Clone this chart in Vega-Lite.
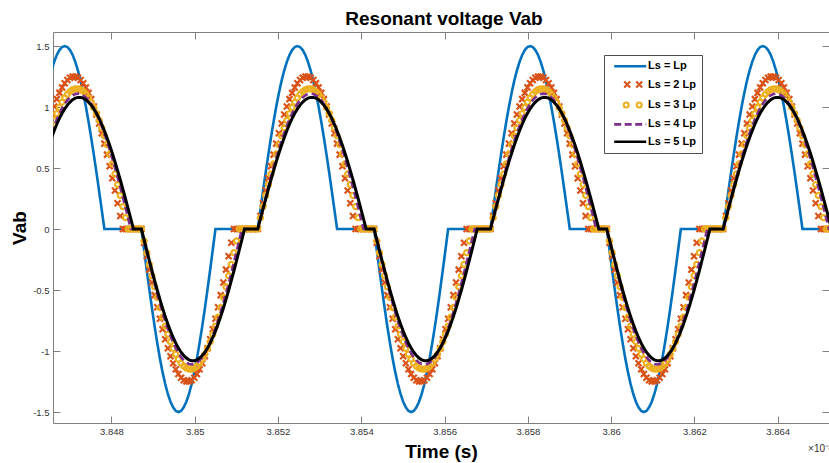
{
"$schema": "https://vega.github.io/schema/vega-lite/v6.json",
"width": 776, "height": 391,
"autosize": {"type": "none"},
"padding": {"left": 53, "top": 32, "right": 0, "bottom": 40},
"config": {"view": {"stroke": null}, "font": "Liberation Sans"},
"title": {"text": "Resonant voltage Vab", "font": "Liberation Sans", "fontSize": 19, "fontWeight": "bold", "color": "#000000", "anchor": "middle", "offset": 3, "dx": 3},
"data": {"values": [
{"t":3.846561,"a":1.299,"b":0.938,"c":0.829,"d":0.785,"e":0.749},
{"t":3.8466245,"a":1.37,"b":1.005,"c":0.891,"d":0.844,"e":0.806},
{"t":3.846688,"a":1.427,"b":1.065,"c":0.946,"d":0.898,"e":0.859},
{"t":3.8467515,"a":1.467,"b":1.116,"c":0.996,"d":0.946,"e":0.907},
{"t":3.846815,"a":1.492,"b":1.16,"c":1.039,"d":0.989,"e":0.949},
{"t":3.8468785,"a":1.5,"b":1.195,"c":1.075,"d":1.026,"e":0.985},
{"t":3.846942,"a":1.492,"b":1.222,"c":1.105,"d":1.056,"e":1.016},
{"t":3.8470055,"a":1.467,"b":1.24,"c":1.127,"d":1.079,"e":1.041},
{"t":3.847069,"a":1.427,"b":1.249,"c":1.142,"d":1.096,"e":1.06},
{"t":3.8471325,"a":1.37,"b":1.249,"c":1.149,"d":1.107,"e":1.073},
{"t":3.847196,"a":1.299,"b":1.24,"c":1.149,"d":1.11,"e":1.079},
{"t":3.8472595,"a":1.214,"b":1.222,"c":1.142,"d":1.107,"e":1.079},
{"t":3.847323,"a":1.115,"b":1.195,"c":1.127,"d":1.096,"e":1.073},
{"t":3.8473865,"a":1.004,"b":1.16,"c":1.105,"d":1.079,"e":1.06},
{"t":3.84745,"a":0.882,"b":1.116,"c":1.075,"d":1.056,"e":1.041},
{"t":3.8475135,"a":0.75,"b":1.065,"c":1.039,"d":1.026,"e":1.016},
{"t":3.847577,"a":0.61,"b":1.005,"c":0.996,"d":0.989,"e":0.985},
{"t":3.8476405,"a":0.464,"b":0.938,"c":0.946,"d":0.946,"e":0.949},
{"t":3.847704,"a":0.312,"b":0.865,"c":0.891,"d":0.898,"e":0.907},
{"t":3.8477675,"a":0.157,"b":0.785,"c":0.829,"d":0.844,"e":0.859},
{"t":3.847831,"a":0,"b":0.7,"c":0.763,"d":0.785,"e":0.806},
{"t":3.8478945,"a":0,"b":0.61,"c":0.691,"d":0.721,"e":0.749},
{"t":3.847958,"a":0,"b":0.515,"c":0.615,"d":0.652,"e":0.687},
{"t":3.8480215,"a":0,"b":0.416,"c":0.534,"d":0.58,"e":0.621},
{"t":3.848085,"a":0,"b":0.315,"c":0.451,"d":0.504,"e":0.552},
{"t":3.8481485,"a":0,"b":0.211,"c":0.364,"d":0.425,"e":0.479},
{"t":3.848212,"a":0,"b":0.106,"c":0.275,"d":0.343,"e":0.404},
{"t":3.8482755,"a":0,"b":0,"c":0.184,"d":0.259,"e":0.326},
{"t":3.848339,"a":0,"b":0,"c":0.093,"d":0.174,"e":0.246},
{"t":3.8484025,"a":0,"b":0,"c":0,"d":0.087,"e":0.165},
{"t":3.848466,"a":0,"b":0,"c":0,"d":0,"e":0.083},
{"t":3.8485295,"a":0,"b":0,"c":0,"d":0,"e":0},
{"t":3.848593,"a":0,"b":0,"c":0,"d":0,"e":0},
{"t":3.8486565,"a":0,"b":0,"c":0,"d":0,"e":0},
{"t":3.84872,"a":0,"b":0,"c":0,"d":0,"e":0},
{"t":3.8487835,"a":-0.168,"b":-0.112,"c":-0.098,"d":-0.092,"e":-0.087},
{"t":3.848847,"a":-0.334,"b":-0.223,"c":-0.194,"d":-0.183,"e":-0.173},
{"t":3.8489105,"a":-0.495,"b":-0.333,"c":-0.29,"d":-0.272,"e":-0.258},
{"t":3.848974,"a":-0.651,"b":-0.439,"c":-0.383,"d":-0.36,"e":-0.342},
{"t":3.8490375,"a":-0.798,"b":-0.542,"c":-0.474,"d":-0.446,"e":-0.423},
{"t":3.849101,"a":-0.935,"b":-0.641,"c":-0.561,"d":-0.528,"e":-0.502},
{"t":3.8491645,"a":-1.061,"b":-0.735,"c":-0.644,"d":-0.607,"e":-0.577},
{"t":3.849228,"a":-1.173,"b":-0.822,"c":-0.722,"d":-0.682,"e":-0.649},
{"t":3.8492915,"a":-1.27,"b":-0.904,"c":-0.796,"d":-0.752,"e":-0.716},
{"t":3.849355,"a":-1.352,"b":-0.977,"c":-0.863,"d":-0.817,"e":-0.779},
{"t":3.8494185,"a":-1.416,"b":-1.043,"c":-0.924,"d":-0.876,"e":-0.837},
{"t":3.849482,"a":-1.462,"b":-1.101,"c":-0.979,"d":-0.929,"e":-0.889},
{"t":3.8495455,"a":-1.491,"b":-1.15,"c":-1.027,"d":-0.976,"e":-0.935},
{"t":3.849609,"a":-1.5,"b":-1.189,"c":-1.067,"d":-1.017,"e":-0.976},
{"t":3.8496725,"a":-1.491,"b":-1.219,"c":-1.1,"d":-1.05,"e":-1.01},
{"t":3.849736,"a":-1.462,"b":-1.239,"c":-1.124,"d":-1.076,"e":-1.037},
{"t":3.8497995,"a":-1.416,"b":-1.249,"c":-1.141,"d":-1.095,"e":-1.058},
{"t":3.849863,"a":-1.352,"b":-1.249,"c":-1.149,"d":-1.106,"e":-1.072},
{"t":3.8499265,"a":-1.27,"b":-1.239,"c":-1.149,"d":-1.11,"e":-1.079},
{"t":3.84999,"a":-1.173,"b":-1.219,"c":-1.141,"d":-1.106,"e":-1.079},
{"t":3.8500535,"a":-1.061,"b":-1.189,"c":-1.124,"d":-1.095,"e":-1.072},
{"t":3.850117,"a":-0.935,"b":-1.15,"c":-1.1,"d":-1.076,"e":-1.058},
{"t":3.8501805,"a":-0.798,"b":-1.101,"c":-1.067,"d":-1.05,"e":-1.037},
{"t":3.850244,"a":-0.651,"b":-1.043,"c":-1.027,"d":-1.017,"e":-1.01},
{"t":3.8503075,"a":-0.495,"b":-0.977,"c":-0.979,"d":-0.976,"e":-0.976},
{"t":3.850371,"a":-0.334,"b":-0.904,"c":-0.924,"d":-0.929,"e":-0.935},
{"t":3.8504345,"a":-0.168,"b":-0.822,"c":-0.863,"d":-0.876,"e":-0.889},
{"t":3.850498,"a":0,"b":-0.735,"c":-0.796,"d":-0.817,"e":-0.837},
{"t":3.8505615,"a":0,"b":-0.641,"c":-0.722,"d":-0.752,"e":-0.779},
{"t":3.850625,"a":0,"b":-0.542,"c":-0.644,"d":-0.682,"e":-0.716},
{"t":3.8506885,"a":0,"b":-0.439,"c":-0.561,"d":-0.607,"e":-0.649},
{"t":3.850752,"a":0,"b":-0.333,"c":-0.474,"d":-0.528,"e":-0.577},
{"t":3.8508155,"a":0,"b":-0.223,"c":-0.383,"d":-0.446,"e":-0.502},
{"t":3.850879,"a":0,"b":-0.112,"c":-0.29,"d":-0.36,"e":-0.423},
{"t":3.8509425,"a":0,"b":0,"c":-0.194,"d":-0.272,"e":-0.342},
{"t":3.851006,"a":0,"b":0,"c":-0.098,"d":-0.183,"e":-0.258},
{"t":3.8510695,"a":0,"b":0,"c":0,"d":-0.092,"e":-0.173},
{"t":3.851133,"a":0,"b":0,"c":0,"d":0,"e":-0.087},
{"t":3.8511965,"a":0,"b":0,"c":0,"d":0,"e":0},
{"t":3.85126,"a":0,"b":0,"c":0,"d":0,"e":0},
{"t":3.8513235,"a":0,"b":0,"c":0,"d":0,"e":0},
{"t":3.851387,"a":0,"b":0,"c":0,"d":0,"e":0},
{"t":3.8514505,"a":0,"b":0,"c":0,"d":0,"e":0},
{"t":3.851514,"a":0,"b":0,"c":0,"d":0,"e":0},
{"t":3.8515775,"a":0.157,"b":0.106,"c":0.093,"d":0.087,"e":0.083},
{"t":3.851641,"a":0.312,"b":0.211,"c":0.184,"d":0.174,"e":0.165},
{"t":3.8517045,"a":0.464,"b":0.315,"c":0.275,"d":0.259,"e":0.246},
{"t":3.851768,"a":0.61,"b":0.416,"c":0.364,"d":0.343,"e":0.326},
{"t":3.8518315,"a":0.75,"b":0.515,"c":0.451,"d":0.425,"e":0.404},
{"t":3.851895,"a":0.882,"b":0.61,"c":0.534,"d":0.504,"e":0.479},
{"t":3.8519585,"a":1.004,"b":0.7,"c":0.615,"d":0.58,"e":0.552},
{"t":3.852022,"a":1.115,"b":0.785,"c":0.691,"d":0.652,"e":0.621},
{"t":3.8520855,"a":1.214,"b":0.865,"c":0.763,"d":0.721,"e":0.687},
{"t":3.852149,"a":1.299,"b":0.938,"c":0.829,"d":0.785,"e":0.749},
{"t":3.8522125,"a":1.37,"b":1.005,"c":0.891,"d":0.844,"e":0.806},
{"t":3.852276,"a":1.427,"b":1.065,"c":0.946,"d":0.898,"e":0.859},
{"t":3.8523395,"a":1.467,"b":1.116,"c":0.996,"d":0.946,"e":0.907},
{"t":3.852403,"a":1.492,"b":1.16,"c":1.039,"d":0.989,"e":0.949},
{"t":3.8524665,"a":1.5,"b":1.195,"c":1.075,"d":1.026,"e":0.985},
{"t":3.85253,"a":1.492,"b":1.222,"c":1.105,"d":1.056,"e":1.016},
{"t":3.8525935,"a":1.467,"b":1.24,"c":1.127,"d":1.079,"e":1.041},
{"t":3.852657,"a":1.427,"b":1.249,"c":1.142,"d":1.096,"e":1.06},
{"t":3.8527205,"a":1.37,"b":1.249,"c":1.149,"d":1.107,"e":1.073},
{"t":3.852784,"a":1.299,"b":1.24,"c":1.149,"d":1.11,"e":1.079},
{"t":3.8528475,"a":1.214,"b":1.222,"c":1.142,"d":1.107,"e":1.079},
{"t":3.852911,"a":1.115,"b":1.195,"c":1.127,"d":1.096,"e":1.073},
{"t":3.8529745,"a":1.004,"b":1.16,"c":1.105,"d":1.079,"e":1.06},
{"t":3.853038,"a":0.882,"b":1.116,"c":1.075,"d":1.056,"e":1.041},
{"t":3.8531015,"a":0.75,"b":1.065,"c":1.039,"d":1.026,"e":1.016},
{"t":3.853165,"a":0.61,"b":1.005,"c":0.996,"d":0.989,"e":0.985},
{"t":3.8532285,"a":0.464,"b":0.938,"c":0.946,"d":0.946,"e":0.949},
{"t":3.853292,"a":0.312,"b":0.865,"c":0.891,"d":0.898,"e":0.907},
{"t":3.8533555,"a":0.157,"b":0.785,"c":0.829,"d":0.844,"e":0.859},
{"t":3.853419,"a":0,"b":0.7,"c":0.763,"d":0.785,"e":0.806},
{"t":3.8534825,"a":0,"b":0.61,"c":0.691,"d":0.721,"e":0.749},
{"t":3.853546,"a":0,"b":0.515,"c":0.615,"d":0.652,"e":0.687},
{"t":3.8536095,"a":0,"b":0.416,"c":0.534,"d":0.58,"e":0.621},
{"t":3.853673,"a":0,"b":0.315,"c":0.451,"d":0.504,"e":0.552},
{"t":3.8537365,"a":0,"b":0.211,"c":0.364,"d":0.425,"e":0.479},
{"t":3.8538,"a":0,"b":0.106,"c":0.275,"d":0.343,"e":0.404},
{"t":3.8538635,"a":0,"b":0,"c":0.184,"d":0.259,"e":0.326},
{"t":3.853927,"a":0,"b":0,"c":0.093,"d":0.174,"e":0.246},
{"t":3.8539905,"a":0,"b":0,"c":0,"d":0.087,"e":0.165},
{"t":3.854054,"a":0,"b":0,"c":0,"d":0,"e":0.083},
{"t":3.8541175,"a":0,"b":0,"c":0,"d":0,"e":0},
{"t":3.854181,"a":0,"b":0,"c":0,"d":0,"e":0},
{"t":3.8542445,"a":0,"b":0,"c":0,"d":0,"e":0},
{"t":3.854308,"a":0,"b":0,"c":0,"d":0,"e":0},
{"t":3.8543715,"a":-0.168,"b":-0.112,"c":-0.098,"d":-0.092,"e":-0.087},
{"t":3.854435,"a":-0.334,"b":-0.223,"c":-0.194,"d":-0.183,"e":-0.173},
{"t":3.8544985,"a":-0.495,"b":-0.333,"c":-0.29,"d":-0.272,"e":-0.258},
{"t":3.854562,"a":-0.651,"b":-0.439,"c":-0.383,"d":-0.36,"e":-0.342},
{"t":3.8546255,"a":-0.798,"b":-0.542,"c":-0.474,"d":-0.446,"e":-0.423},
{"t":3.854689,"a":-0.935,"b":-0.641,"c":-0.561,"d":-0.528,"e":-0.502},
{"t":3.8547525,"a":-1.061,"b":-0.735,"c":-0.644,"d":-0.607,"e":-0.577},
{"t":3.854816,"a":-1.173,"b":-0.822,"c":-0.722,"d":-0.682,"e":-0.649},
{"t":3.8548795,"a":-1.27,"b":-0.904,"c":-0.796,"d":-0.752,"e":-0.716},
{"t":3.854943,"a":-1.352,"b":-0.977,"c":-0.863,"d":-0.817,"e":-0.779},
{"t":3.8550065,"a":-1.416,"b":-1.043,"c":-0.924,"d":-0.876,"e":-0.837},
{"t":3.85507,"a":-1.462,"b":-1.101,"c":-0.979,"d":-0.929,"e":-0.889},
{"t":3.8551335,"a":-1.491,"b":-1.15,"c":-1.027,"d":-0.976,"e":-0.935},
{"t":3.855197,"a":-1.5,"b":-1.189,"c":-1.067,"d":-1.017,"e":-0.976},
{"t":3.8552605,"a":-1.491,"b":-1.219,"c":-1.1,"d":-1.05,"e":-1.01},
{"t":3.855324,"a":-1.462,"b":-1.239,"c":-1.124,"d":-1.076,"e":-1.037},
{"t":3.8553875,"a":-1.416,"b":-1.249,"c":-1.141,"d":-1.095,"e":-1.058},
{"t":3.855451,"a":-1.352,"b":-1.249,"c":-1.149,"d":-1.106,"e":-1.072},
{"t":3.8555145,"a":-1.27,"b":-1.239,"c":-1.149,"d":-1.11,"e":-1.079},
{"t":3.855578,"a":-1.173,"b":-1.219,"c":-1.141,"d":-1.106,"e":-1.079},
{"t":3.8556415,"a":-1.061,"b":-1.189,"c":-1.124,"d":-1.095,"e":-1.072},
{"t":3.855705,"a":-0.935,"b":-1.15,"c":-1.1,"d":-1.076,"e":-1.058},
{"t":3.8557685,"a":-0.798,"b":-1.101,"c":-1.067,"d":-1.05,"e":-1.037},
{"t":3.855832,"a":-0.651,"b":-1.043,"c":-1.027,"d":-1.017,"e":-1.01},
{"t":3.8558955,"a":-0.495,"b":-0.977,"c":-0.979,"d":-0.976,"e":-0.976},
{"t":3.855959,"a":-0.334,"b":-0.904,"c":-0.924,"d":-0.929,"e":-0.935},
{"t":3.8560225,"a":-0.168,"b":-0.822,"c":-0.863,"d":-0.876,"e":-0.889},
{"t":3.856086,"a":0,"b":-0.735,"c":-0.796,"d":-0.817,"e":-0.837},
{"t":3.8561495,"a":0,"b":-0.641,"c":-0.722,"d":-0.752,"e":-0.779},
{"t":3.856213,"a":0,"b":-0.542,"c":-0.644,"d":-0.682,"e":-0.716},
{"t":3.8562765,"a":0,"b":-0.439,"c":-0.561,"d":-0.607,"e":-0.649},
{"t":3.85634,"a":0,"b":-0.333,"c":-0.474,"d":-0.528,"e":-0.577},
{"t":3.8564035,"a":0,"b":-0.223,"c":-0.383,"d":-0.446,"e":-0.502},
{"t":3.856467,"a":0,"b":-0.112,"c":-0.29,"d":-0.36,"e":-0.423},
{"t":3.8565305,"a":0,"b":0,"c":-0.194,"d":-0.272,"e":-0.342},
{"t":3.856594,"a":0,"b":0,"c":-0.098,"d":-0.183,"e":-0.258},
{"t":3.8566575,"a":0,"b":0,"c":0,"d":-0.092,"e":-0.173},
{"t":3.856721,"a":0,"b":0,"c":0,"d":0,"e":-0.087},
{"t":3.8567845,"a":0,"b":0,"c":0,"d":0,"e":0},
{"t":3.856848,"a":0,"b":0,"c":0,"d":0,"e":0},
{"t":3.8569115,"a":0,"b":0,"c":0,"d":0,"e":0},
{"t":3.856975,"a":0,"b":0,"c":0,"d":0,"e":0},
{"t":3.8570385,"a":0,"b":0,"c":0,"d":0,"e":0},
{"t":3.857102,"a":0,"b":0,"c":0,"d":0,"e":0},
{"t":3.8571655,"a":0.157,"b":0.106,"c":0.093,"d":0.087,"e":0.083},
{"t":3.857229,"a":0.312,"b":0.211,"c":0.184,"d":0.174,"e":0.165},
{"t":3.8572925,"a":0.464,"b":0.315,"c":0.275,"d":0.259,"e":0.246},
{"t":3.857356,"a":0.61,"b":0.416,"c":0.364,"d":0.343,"e":0.326},
{"t":3.8574195,"a":0.75,"b":0.515,"c":0.451,"d":0.425,"e":0.404},
{"t":3.857483,"a":0.882,"b":0.61,"c":0.534,"d":0.504,"e":0.479},
{"t":3.8575465,"a":1.004,"b":0.7,"c":0.615,"d":0.58,"e":0.552},
{"t":3.85761,"a":1.115,"b":0.785,"c":0.691,"d":0.652,"e":0.621},
{"t":3.8576735,"a":1.214,"b":0.865,"c":0.763,"d":0.721,"e":0.687},
{"t":3.857737,"a":1.299,"b":0.938,"c":0.829,"d":0.785,"e":0.749},
{"t":3.8578005,"a":1.37,"b":1.005,"c":0.891,"d":0.844,"e":0.806},
{"t":3.857864,"a":1.427,"b":1.065,"c":0.946,"d":0.898,"e":0.859},
{"t":3.8579275,"a":1.467,"b":1.116,"c":0.996,"d":0.946,"e":0.907},
{"t":3.857991,"a":1.492,"b":1.16,"c":1.039,"d":0.989,"e":0.949},
{"t":3.8580545,"a":1.5,"b":1.195,"c":1.075,"d":1.026,"e":0.985},
{"t":3.858118,"a":1.492,"b":1.222,"c":1.105,"d":1.056,"e":1.016},
{"t":3.8581815,"a":1.467,"b":1.24,"c":1.127,"d":1.079,"e":1.041},
{"t":3.858245,"a":1.427,"b":1.249,"c":1.142,"d":1.096,"e":1.06},
{"t":3.8583085,"a":1.37,"b":1.249,"c":1.149,"d":1.107,"e":1.073},
{"t":3.858372,"a":1.299,"b":1.24,"c":1.149,"d":1.11,"e":1.079},
{"t":3.8584355,"a":1.214,"b":1.222,"c":1.142,"d":1.107,"e":1.079},
{"t":3.858499,"a":1.115,"b":1.195,"c":1.127,"d":1.096,"e":1.073},
{"t":3.8585625,"a":1.004,"b":1.16,"c":1.105,"d":1.079,"e":1.06},
{"t":3.858626,"a":0.882,"b":1.116,"c":1.075,"d":1.056,"e":1.041},
{"t":3.8586895,"a":0.75,"b":1.065,"c":1.039,"d":1.026,"e":1.016},
{"t":3.858753,"a":0.61,"b":1.005,"c":0.996,"d":0.989,"e":0.985},
{"t":3.8588165,"a":0.464,"b":0.938,"c":0.946,"d":0.946,"e":0.949},
{"t":3.85888,"a":0.312,"b":0.865,"c":0.891,"d":0.898,"e":0.907},
{"t":3.8589435,"a":0.157,"b":0.785,"c":0.829,"d":0.844,"e":0.859},
{"t":3.859007,"a":0,"b":0.7,"c":0.763,"d":0.785,"e":0.806},
{"t":3.8590705,"a":0,"b":0.61,"c":0.691,"d":0.721,"e":0.749},
{"t":3.859134,"a":0,"b":0.515,"c":0.615,"d":0.652,"e":0.687},
{"t":3.8591975,"a":0,"b":0.416,"c":0.534,"d":0.58,"e":0.621},
{"t":3.859261,"a":0,"b":0.315,"c":0.451,"d":0.504,"e":0.552},
{"t":3.8593245,"a":0,"b":0.211,"c":0.364,"d":0.425,"e":0.479},
{"t":3.859388,"a":0,"b":0.106,"c":0.275,"d":0.343,"e":0.404},
{"t":3.8594515,"a":0,"b":0,"c":0.184,"d":0.259,"e":0.326},
{"t":3.859515,"a":0,"b":0,"c":0.093,"d":0.174,"e":0.246},
{"t":3.8595785,"a":0,"b":0,"c":0,"d":0.087,"e":0.165},
{"t":3.859642,"a":0,"b":0,"c":0,"d":0,"e":0.083},
{"t":3.8597055,"a":0,"b":0,"c":0,"d":0,"e":0},
{"t":3.859769,"a":0,"b":0,"c":0,"d":0,"e":0},
{"t":3.8598325,"a":0,"b":0,"c":0,"d":0,"e":0},
{"t":3.859896,"a":0,"b":0,"c":0,"d":0,"e":0},
{"t":3.8599595,"a":-0.168,"b":-0.112,"c":-0.098,"d":-0.092,"e":-0.087},
{"t":3.860023,"a":-0.334,"b":-0.223,"c":-0.194,"d":-0.183,"e":-0.173},
{"t":3.8600865,"a":-0.495,"b":-0.333,"c":-0.29,"d":-0.272,"e":-0.258},
{"t":3.86015,"a":-0.651,"b":-0.439,"c":-0.383,"d":-0.36,"e":-0.342},
{"t":3.8602135,"a":-0.798,"b":-0.542,"c":-0.474,"d":-0.446,"e":-0.423},
{"t":3.860277,"a":-0.935,"b":-0.641,"c":-0.561,"d":-0.528,"e":-0.502},
{"t":3.8603405,"a":-1.061,"b":-0.735,"c":-0.644,"d":-0.607,"e":-0.577},
{"t":3.860404,"a":-1.173,"b":-0.822,"c":-0.722,"d":-0.682,"e":-0.649},
{"t":3.8604675,"a":-1.27,"b":-0.904,"c":-0.796,"d":-0.752,"e":-0.716},
{"t":3.860531,"a":-1.352,"b":-0.977,"c":-0.863,"d":-0.817,"e":-0.779},
{"t":3.8605945,"a":-1.416,"b":-1.043,"c":-0.924,"d":-0.876,"e":-0.837},
{"t":3.860658,"a":-1.462,"b":-1.101,"c":-0.979,"d":-0.929,"e":-0.889},
{"t":3.8607215,"a":-1.491,"b":-1.15,"c":-1.027,"d":-0.976,"e":-0.935},
{"t":3.860785,"a":-1.5,"b":-1.189,"c":-1.067,"d":-1.017,"e":-0.976},
{"t":3.8608485,"a":-1.491,"b":-1.219,"c":-1.1,"d":-1.05,"e":-1.01},
{"t":3.860912,"a":-1.462,"b":-1.239,"c":-1.124,"d":-1.076,"e":-1.037},
{"t":3.8609755,"a":-1.416,"b":-1.249,"c":-1.141,"d":-1.095,"e":-1.058},
{"t":3.861039,"a":-1.352,"b":-1.249,"c":-1.149,"d":-1.106,"e":-1.072},
{"t":3.8611025,"a":-1.27,"b":-1.239,"c":-1.149,"d":-1.11,"e":-1.079},
{"t":3.861166,"a":-1.173,"b":-1.219,"c":-1.141,"d":-1.106,"e":-1.079},
{"t":3.8612295,"a":-1.061,"b":-1.189,"c":-1.124,"d":-1.095,"e":-1.072},
{"t":3.861293,"a":-0.935,"b":-1.15,"c":-1.1,"d":-1.076,"e":-1.058},
{"t":3.8613565,"a":-0.798,"b":-1.101,"c":-1.067,"d":-1.05,"e":-1.037},
{"t":3.86142,"a":-0.651,"b":-1.043,"c":-1.027,"d":-1.017,"e":-1.01},
{"t":3.8614835,"a":-0.495,"b":-0.977,"c":-0.979,"d":-0.976,"e":-0.976},
{"t":3.861547,"a":-0.334,"b":-0.904,"c":-0.924,"d":-0.929,"e":-0.935},
{"t":3.8616105,"a":-0.168,"b":-0.822,"c":-0.863,"d":-0.876,"e":-0.889},
{"t":3.861674,"a":0,"b":-0.735,"c":-0.796,"d":-0.817,"e":-0.837},
{"t":3.8617375,"a":0,"b":-0.641,"c":-0.722,"d":-0.752,"e":-0.779},
{"t":3.861801,"a":0,"b":-0.542,"c":-0.644,"d":-0.682,"e":-0.716},
{"t":3.8618645,"a":0,"b":-0.439,"c":-0.561,"d":-0.607,"e":-0.649},
{"t":3.861928,"a":0,"b":-0.333,"c":-0.474,"d":-0.528,"e":-0.577},
{"t":3.8619915,"a":0,"b":-0.223,"c":-0.383,"d":-0.446,"e":-0.502},
{"t":3.862055,"a":0,"b":-0.112,"c":-0.29,"d":-0.36,"e":-0.423},
{"t":3.8621185,"a":0,"b":0,"c":-0.194,"d":-0.272,"e":-0.342},
{"t":3.862182,"a":0,"b":0,"c":-0.098,"d":-0.183,"e":-0.258},
{"t":3.8622455,"a":0,"b":0,"c":0,"d":-0.092,"e":-0.173},
{"t":3.862309,"a":0,"b":0,"c":0,"d":0,"e":-0.087},
{"t":3.8623725,"a":0,"b":0,"c":0,"d":0,"e":0},
{"t":3.862436,"a":0,"b":0,"c":0,"d":0,"e":0},
{"t":3.8624995,"a":0,"b":0,"c":0,"d":0,"e":0},
{"t":3.862563,"a":0,"b":0,"c":0,"d":0,"e":0},
{"t":3.8626265,"a":0,"b":0,"c":0,"d":0,"e":0},
{"t":3.86269,"a":0,"b":0,"c":0,"d":0,"e":0},
{"t":3.8627535,"a":0.157,"b":0.106,"c":0.093,"d":0.087,"e":0.083},
{"t":3.862817,"a":0.312,"b":0.211,"c":0.184,"d":0.174,"e":0.165},
{"t":3.8628805,"a":0.464,"b":0.315,"c":0.275,"d":0.259,"e":0.246},
{"t":3.862944,"a":0.61,"b":0.416,"c":0.364,"d":0.343,"e":0.326},
{"t":3.8630075,"a":0.75,"b":0.515,"c":0.451,"d":0.425,"e":0.404},
{"t":3.863071,"a":0.882,"b":0.61,"c":0.534,"d":0.504,"e":0.479},
{"t":3.8631345,"a":1.004,"b":0.7,"c":0.615,"d":0.58,"e":0.552},
{"t":3.863198,"a":1.115,"b":0.785,"c":0.691,"d":0.652,"e":0.621},
{"t":3.8632615,"a":1.214,"b":0.865,"c":0.763,"d":0.721,"e":0.687},
{"t":3.863325,"a":1.299,"b":0.938,"c":0.829,"d":0.785,"e":0.749},
{"t":3.8633885,"a":1.37,"b":1.005,"c":0.891,"d":0.844,"e":0.806},
{"t":3.863452,"a":1.427,"b":1.065,"c":0.946,"d":0.898,"e":0.859},
{"t":3.8635155,"a":1.467,"b":1.116,"c":0.996,"d":0.946,"e":0.907},
{"t":3.863579,"a":1.492,"b":1.16,"c":1.039,"d":0.989,"e":0.949},
{"t":3.8636425,"a":1.5,"b":1.195,"c":1.075,"d":1.026,"e":0.985},
{"t":3.863706,"a":1.492,"b":1.222,"c":1.105,"d":1.056,"e":1.016},
{"t":3.8637695,"a":1.467,"b":1.24,"c":1.127,"d":1.079,"e":1.041},
{"t":3.863833,"a":1.427,"b":1.249,"c":1.142,"d":1.096,"e":1.06},
{"t":3.8638965,"a":1.37,"b":1.249,"c":1.149,"d":1.107,"e":1.073},
{"t":3.86396,"a":1.299,"b":1.24,"c":1.149,"d":1.11,"e":1.079},
{"t":3.8640235,"a":1.214,"b":1.222,"c":1.142,"d":1.107,"e":1.079},
{"t":3.864087,"a":1.115,"b":1.195,"c":1.127,"d":1.096,"e":1.073},
{"t":3.8641505,"a":1.004,"b":1.16,"c":1.105,"d":1.079,"e":1.06},
{"t":3.864214,"a":0.882,"b":1.116,"c":1.075,"d":1.056,"e":1.041},
{"t":3.8642775,"a":0.75,"b":1.065,"c":1.039,"d":1.026,"e":1.016},
{"t":3.864341,"a":0.61,"b":1.005,"c":0.996,"d":0.989,"e":0.985},
{"t":3.8644045,"a":0.464,"b":0.938,"c":0.946,"d":0.946,"e":0.949},
{"t":3.864468,"a":0.312,"b":0.865,"c":0.891,"d":0.898,"e":0.907},
{"t":3.8645315,"a":0.157,"b":0.785,"c":0.829,"d":0.844,"e":0.859},
{"t":3.864595,"a":0,"b":0.7,"c":0.763,"d":0.785,"e":0.806},
{"t":3.8646585,"a":0,"b":0.61,"c":0.691,"d":0.721,"e":0.749},
{"t":3.864722,"a":0,"b":0.515,"c":0.615,"d":0.652,"e":0.687},
{"t":3.8647855,"a":0,"b":0.416,"c":0.534,"d":0.58,"e":0.621},
{"t":3.864849,"a":0,"b":0.315,"c":0.451,"d":0.504,"e":0.552},
{"t":3.8649125,"a":0,"b":0.211,"c":0.364,"d":0.425,"e":0.479},
{"t":3.864976,"a":0,"b":0.106,"c":0.275,"d":0.343,"e":0.404},
{"t":3.8650395,"a":0,"b":0,"c":0.184,"d":0.259,"e":0.326},
{"t":3.865103,"a":0,"b":0,"c":0.093,"d":0.174,"e":0.246},
{"t":3.8651665,"a":0,"b":0,"c":0,"d":0.087,"e":0.165},
{"t":3.86523,"a":0,"b":0,"c":0,"d":0,"e":0.083},
{"t":3.8652935,"a":0,"b":0,"c":0,"d":0,"e":0}
]},
"layer": [
{"mark": {"type": "line", "strokeWidth": 2.6, "clip": true},
 "encoding": {
  "x": {"field": "t", "type": "quantitative", "scale": {"domain": [3.846597, 3.865232], "nice": false, "zero": false},
        "axis": {"orient": "bottom", "values": [3.848, 3.85, 3.852, 3.854, 3.856, 3.858, 3.86, 3.862, 3.864], "labelExpr": "'' + datum.value", "grid": false, "tickSize": -7, "tickColor": "#808080", "domainColor": "#808080", "labelFont": "Liberation Sans", "labelFontSize": 9.5, "labelColor": "#333333", "labelPadding": 10, "labelFlush": false, "labelOverlap": false, "title": "Time (s)", "titleFont": "Liberation Sans", "titleFontSize": 19, "titleFontWeight": "bold", "titleColor": "#000000", "titlePadding": 7}},
  "y": {"field": "a", "type": "quantitative", "scale": {"domain": [-1.59, 1.615], "nice": false, "zero": false},
        "axis": {"orient": "left", "values": [-1.5, -1, -0.5, 0, 0.5, 1, 1.5], "labelExpr": "'' + datum.value", "grid": false, "tickSize": -7, "tickColor": "#808080", "domainColor": "#808080", "labelFont": "Liberation Sans", "labelFontSize": 9.5, "labelColor": "#333333", "labelPadding": 11, "labelFlush": false, "labelOverlap": false, "title": "Vab", "titleFont": "Liberation Sans", "titleFontSize": 19, "titleFontWeight": "bold", "titleColor": "#000000", "titlePadding": 3}},
  "color": {"datum": "Ls = Lp",
            "scale": {"domain": ["Ls = Lp", "Ls = 2 Lp", "Ls = 3 Lp", "Ls = 4 Lp", "Ls = 5 Lp"], "range": ["#0072BD", "#D95319", "#EDB120", "#7E2F8E", "#000000"]},
            "legend": {"orient": "none", "legendX": 551, "legendY": 23, "title": null, "padding": 5.7, "fillColor": "#ffffff", "strokeColor": "#4d4d4d",
                       "labelFont": "Liberation Sans", "labelFontSize": 11, "labelFontWeight": "bold", "labelColor": "#000000",
                       "symbolType": "stroke", "symbolSize": 100, "symbolStrokeWidth": 2.5, "rowPadding": 5.4, "labelOffset": 27.3,
                       "encode": {"symbols": {"update": {
                         "shape": {"signal": "datum.value === 'Ls = 2 Lp' ? 'M1.8,-0.6L3,0.6M1.8,0.6L3,-0.6M4.2,-0.6L5.4,0.6M4.2,0.6L5.4,-0.6' : datum.value === 'Ls = 3 Lp' ? 'M1.7,0A0.5,0.5,0,1,0,2.7,0A0.5,0.5,0,1,0,1.7,0M4.3,0A0.5,0.5,0,1,0,5.3,0A0.5,0.5,0,1,0,4.3,0' : 'M-0.2,0H6.2'"},
                         "strokeDash": {"signal": "datum.value === 'Ls = 4 Lp' ? [7, 3.5] : []"},
                         "strokeWidth": {"signal": "datum.value === 'Ls = 2 Lp' || datum.value === 'Ls = 3 Lp' ? 2.1 : 2.6"}
                       }}}}}
 }},
{"mark": {"type": "point", "shape": "M-1,-1L1,1M-1,1L1,-1", "filled": false, "color": "#D95319", "strokeWidth": 2.2, "size": 36, "opacity": 1, "clip": true},
 "encoding": {
  "x": {"field": "t", "type": "quantitative", "axis": {"orient": "top", "values": [3.848, 3.85, 3.852, 3.854, 3.856, 3.858, 3.86, 3.862, 3.864], "labels": false, "grid": false, "tickSize": -7, "tickColor": "#808080", "domainColor": "#808080", "title": null}},
  "y": {"field": "b", "type": "quantitative", "axis": {"orient": "right", "values": [-1.5, -1, -0.5, 0, 0.5, 1, 1.5], "labels": false, "grid": false, "tickSize": -7, "tickColor": "#808080", "domainColor": "#808080", "title": null}}
 }},
{"mark": {"type": "point", "shape": "circle", "filled": false, "color": "#EDB120", "strokeWidth": 2.2, "size": 26, "opacity": 1, "clip": true},
 "encoding": {
  "x": {"field": "t", "type": "quantitative", "axis": null},
  "y": {"field": "c", "type": "quantitative", "axis": null}
 }},
{"mark": {"type": "line", "color": "#7E2F8E", "strokeWidth": 2.6, "strokeDash": [7, 4], "clip": true},
 "encoding": {
  "x": {"field": "t", "type": "quantitative", "axis": null},
  "y": {"field": "d", "type": "quantitative", "axis": null}
 }},
{"mark": {"type": "line", "color": "#000000", "strokeWidth": 3, "clip": true},
 "encoding": {
  "x": {"field": "t", "type": "quantitative", "axis": null},
  "y": {"field": "e", "type": "quantitative", "axis": null}
 }},
{"data": {"values": [{}]},
 "mark": {"type": "text", "text": "×10⁻³", "align": "left", "baseline": "middle", "dy": 26, "fontSize": 10, "color": "#333333", "font": "Liberation Sans"},
 "encoding": {
  "x": {"datum": 3.86473, "type": "quantitative", "axis": null},
  "y": {"datum": -1.59, "type": "quantitative", "axis": null}
 }}
],
"resolve": {"axis": {"x": "independent", "y": "independent"}}
}
